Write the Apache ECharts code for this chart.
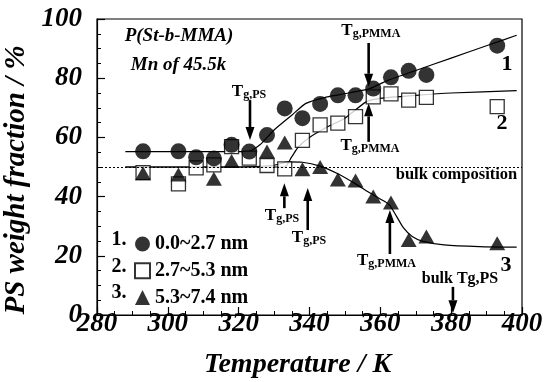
<!DOCTYPE html>
<html><head><meta charset="utf-8">
<script src="https://cdn.jsdelivr.net/npm/echarts@6/dist/echarts.min.js"></script>
<style>html,body{margin:0;padding:0;background:#fff}#c{width:545px;height:382px}</style>
</head><body><div id="c"></div><script>
// ---- data ----
const legendNames = ['0.0~2.7 nm', '2.7~5.3 nm', '5.3~7.4 nm'];
const temps1 = [293,303,308,313,318,323,328,333,338,343,348,353,358,363,368,373,393];
const frac1  = [55.3,55.3,53.3,52.9,57.5,55.2,60.8,69.8,66.5,71.3,74.2,74.2,76.5,80.3,82.5,81.1,91.0];
const temps2 = [293,303,308,313,318,323,328,333,338,343,348,353,358,363,368,373,393];
const frac2  = [48.1,44.3,49.7,50.7,56.9,53.0,50.5,49.4,59.0,64.2,64.8,67.0,73.7,74.7,72.6,73.5,70.4];
const temps3 = [293,303,313,318,328,333,338,343,348,353,358,363,368,373,393];
const frac3  = [47.9,47.5,46.0,52.0,55.2,58.3,49.2,50.0,45.8,45.4,40.0,38.0,25.3,26.5,24.2];
// fitted guide curves
const fitT1 = [288,300,310,320,323,326,330,335,339,345,351,357,362,370,380,391,398.5];
const fit1  = [55.2,55.2,55.2,55.2,55.3,57.5,62.5,67.5,71.5,73.7,75.0,76.5,79.2,82.6,86.8,91.4,94.5];
const fitT2 = [288,300,320,333,335,337,340,345,350,356,360,370,380,398.5];
const fit2  = [50,50,50,50,53.5,57,60,63.5,66.5,72,73.2,74.2,75,75.8];
const fitT3 = [288,300,320,330,334,338,343,348,353,357,360,362.5,364.5,366.5,369,372,378,388,398.5];
const fit3  = [50,50,50,50.6,51.7,51.6,50.3,47.7,44.3,41.3,39.2,37.3,33.5,29.5,26.5,24.9,23.7,23.1,22.9];
const bulkComposition = 50;
// arrows: [temperature, from value, to value (tip)]
const arrowsT    = [356.7, 323.2, 356.7, 332.9, 339.5, 362.7, 380.5];
const arrowsFrom = [91.9, 72.6, 58.5, 36.1, 28.7, 20.6, 9.5];
const arrowsTo   = [77.1, 59.1, 71.5, 44.5, 42.9, 35.5, 0.6];
const xTicks = [280,300,320,340,360,380,400];
const yTicks = [0,20,40,60,80,100];

const zip = (a,b) => a.map((v,i)=>[v,b[i]]);
const serif = 'Liberation Serif';
const tickFont = {fontFamily: serif, fontWeight:'bold', fontStyle:'italic', fontSize:27, color:'#000'};

const chart = echarts.init(document.getElementById('c'), null, {renderer:'canvas'});

function tgRich(sub){ return '{t|T}{s|g,' + sub + '}'; }
const tgRichStyle = {
  t:{fontFamily:serif, fontWeight:'bold', fontSize:17, lineHeight:18, verticalAlign:'top'},
  s:{fontFamily:serif, fontWeight:'bold', fontSize:12, lineHeight:18, verticalAlign:'bottom', padding:[7,0,0,0]}
};
function tgText(x, y, sub){
  return {type:'text', x:x, y:y, z:100, style:{text:tgRich(sub), rich:tgRichStyle, textAlign:'center', textVerticalAlign:'middle', fill:'#000'}};
}
function plainText(x, y, t, size, italic){
  return {type:'text', x:x, y:y, z:100, style:{text:t, fontFamily:serif, fontWeight:'bold', fontStyle: italic?'italic':'normal', fontSize:size, textAlign:'center', textVerticalAlign:'middle', fill:'#000'}};
}
const fitLine = (data) => ({type:'line', data:data, smooth:0.2, showSymbol:false, symbol:'none', lineStyle:{color:'#000', width:1.2}, z:1, silent:true});

chart.setOption({
  animation:false,
  backgroundColor:'#fff',
  grid:{left:97, right:23, top:19, bottom:67, show:true, borderColor:'#000', borderWidth:1.2, containLabel:false, outerBoundsMode:'none'},
  xAxis:{
    type:'value', min:xTicks[0], max:xTicks[xTicks.length-1], interval:20,
    name:'Temperature / K', nameLocation:'middle', nameGap:36,
    nameTextStyle:{fontFamily:serif, fontWeight:'bold', fontStyle:'italic', fontSize:28, color:'#000', padding:[0,24,0,0]},
    axisLine:{show:true, lineStyle:{color:'#000', width:1.2}},
    axisTick:{show:true, inside:true, length:8, lineStyle:{color:'#000', width:1.2}},
    minorTick:{show:true, splitNumber:4, length:4, lineStyle:{color:'#000', width:1}},
    axisLabel:Object.assign({margin:-4}, tickFont),
    splitLine:{show:false}
  },
  yAxis:{
    type:'value', min:yTicks[0], max:yTicks[yTicks.length-1], interval:20,
    name:'PS weight fraction / %', nameLocation:'middle', nameGap:64,
    nameTextStyle:{fontFamily:serif, fontWeight:'bold', fontStyle:'italic', fontSize:29, color:'#000', padding:[0,26,0,0]},
    axisLine:{show:true, lineStyle:{color:'#000', width:1.2}},
    axisTick:{show:true, inside:true, length:8, lineStyle:{color:'#000', width:1.2}},
    minorTick:{show:true, splitNumber:4, length:4, lineStyle:{color:'#000', width:1}},
    axisLabel:Object.assign({margin:15}, tickFont),
    splitLine:{show:false}
  },
  legend:{
    data:legendNames, orient:'vertical', left:129, top:229,
    itemWidth:15, itemHeight:15, itemGap:6.7,
    textStyle:{fontFamily:serif, fontWeight:'bold', fontSize:20, lineHeight:20, color:'#000'},
    selectedMode:false
  },
  series:[
    Object.assign(fitLine(zip(fitT1,fit1)), {
     markLine:{silent:true, symbol:'none', label:{show:false}, lineStyle:{type:[2,2], color:'#000', width:1}, data:[{yAxis:bulkComposition}]}}),
    fitLine(zip(fitT2,fit2)),
    fitLine(zip(fitT3,fit3)),
    {name:legendNames[1], type:'scatter', data:zip(temps2,frac2), symbol:'rect', symbolSize:14,
     itemStyle:{color:'#fff', borderColor:'#000', borderWidth:1.3}, z:3},
    {name:legendNames[2], type:'scatter', data:zip(temps3,frac3), symbol:'triangle', symbolSize:[16,14],
     itemStyle:{color:'#000'}, z:4},
    {name:legendNames[0], type:'scatter', data:zip(temps1,frac1), symbol:'circle', symbolSize:16,
     itemStyle:{color:'#000'}, z:5},
    {type:'custom', clip:false, z:6, silent:true,
     data:arrowsT.map((t,i)=>[t, arrowsFrom[i], arrowsTo[i]]),
     encode:{x:0, y:[1,2]},
     renderItem:function(params, api){
       const p0 = api.coord([api.value(0), api.value(1)]);
       const p1 = api.coord([api.value(0), api.value(2)]);
       const dir = Math.sign(p1[1]-p0[1]);
       const headL = 13, headW = 4.5;
       const base = p1[1] - dir*headL;
       return {type:'group', children:[
         {type:'line', shape:{x1:p0[0], y1:p0[1], x2:p1[0], y2:base}, style:{stroke:'#000', lineWidth:2.6}},
         {type:'polygon', shape:{points:[[p1[0]-headW, base],[p1[0]+headW, base],[p1[0], p1[1]]]}, style:{fill:'#000'}}
       ]};
     }}
  ],
  graphic:[
    plainText(179, 36, 'P(St-b-MMA)', 19, true),
    plainText(178.5, 65, 'Mn of 45.5k', 19, true),
    tgText(370.8, 31, 'PMMA'),
    tgText(249, 92, 'PS'),
    tgText(370, 146, 'PMMA'),
    tgText(282, 216, 'PS'),
    tgText(309, 238, 'PS'),
    tgText(386.5, 261, 'PMMA'),
    plainText(456.5, 175, 'bulk composition', 16.5, false),
    plainText(460, 279, 'bulk Tg,PS', 16, false),
    plainText(507, 64, '1', 22, false),
    plainText(502, 123, '2', 22, false),
    plainText(506, 265, '3', 22, false),
    plainText(119, 240, '1.', 20, false),
    plainText(119, 266.7, '2.', 20, false),
    plainText(119, 293.3, '3.', 20, false)
  ]
});
</script></body></html>
